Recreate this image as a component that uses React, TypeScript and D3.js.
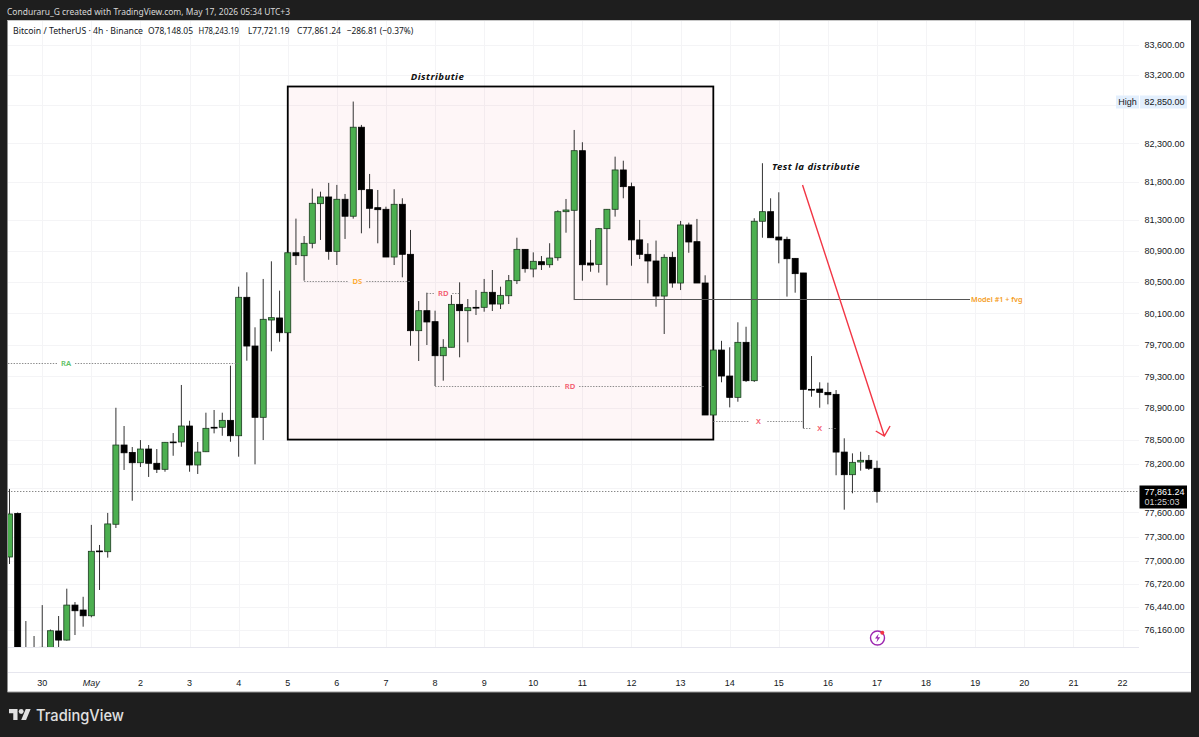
import React from "react";
import * as d3 from "d3";

const opens = [77051,77587,75797,75860,75900,75950,76148,76038,76463,76403,76333,77125,77116,77454,78438,78346,78217,78388,78210,78135,78476,78476,78676,78189,78354,78660,78660,78747,78554,80306,79685,78785,80016,80042,79854,80878,80840,81000,81513,81600,80896,81570,81350,82512,81695,81461,81440,80823,81505,80858,79880,80135,79995,79562,79669,80216,80135,80178,80178,80370,80220,80326,80519,80922,80669,80763,80724,80814,81409,81427,82204,80746,80729,81189,81440,81952,81734,81044,80858,80772,80322,80819,80489,81237,81021,80489,78814,79634,79305,79036,79732,79246,81285,81409,81081,81051,80806,80618,79137,79141,79099,79074,78350,78068,78226,78247,78148];
const highs = [77891,77600,76269,76087,76463,76166,76330,76663,76500,76564,77446,77199,77594,78905,78676,78413,78500,78438,78388,78476,78588,79192,78742,78476,78843,78877,78843,79436,80442,80627,79923,80541,80768,80391,80887,81319,81094,81709,81669,81783,81757,81639,82850,82542,81900,81691,81474,81701,81583,81172,80258,80365,80135,79772,80335,80498,80284,80399,80541,80656,80442,80592,81072,80926,80883,80836,81001,81427,81574,82476,82315,81043,81198,81444,82126,82073,81787,81302,81001,81035,80858,80891,81289,81267,81315,80588,79634,79751,79669,79987,79930,81324,82040,81583,81661,81085,80810,80618,79558,79226,79221,79128,78522,78334,78354,78313,78243];
const lows = [76965,75700,75700,75780,75800,75900,75900,76030,76099,76200,76314,76647,77043,77408,78127,77745,78164,78040,78089,78105,78304,78416,78105,78077,78350,78584,78554,78479,78292,79499,78197,78500,79618,79740,79850,80720,80519,80935,81043,80788,80720,81056,81319,81129,81194,81000,80823,80720,80562,79689,79495,79698,79179,79246,79669,79542,79732,80080,80122,80131,80156,80220,80476,80622,80562,80656,80686,80776,81137,80271,80519,80634,80622,80460,81345,81583,80711,80797,80485,80186,79838,80429,80399,80878,80489,78814,78814,79226,78910,78981,79230,79230,81072,81072,80742,80315,80365,78647,79044,78905,78948,78061,77634,77837,78118,78127,77721];
const closes = [77581,75797,75860,75900,75950,76151,76038,76463,76394,76333,77121,77121,77458,78438,78341,78217,78388,78210,78135,78472,78470,78676,78189,78350,78647,78650,78747,78554,80306,79685,78785,80025,80046,79854,80878,80840,81000,81518,81600,80896,81570,81350,82512,81695,81453,81435,80823,81505,80858,79880,80135,79991,79562,79669,80216,80135,80173,80170,80370,80220,80331,80519,80922,80673,80768,80724,80810,81409,81431,82204,80724,80720,81189,81440,81952,81734,81044,80858,80772,80322,80819,80489,81237,81017,80489,78814,79634,79305,79036,79732,79246,81285,81409,81072,81043,80801,80609,79137,79130,79099,79069,78350,78068,78222,78247,78148,77861];

const dayLabels = ["30","May","2","3","4","5","6","7","8","9","10","11","12","13","14","15","16","17","18","19","20","21","22"];
const gridPrices = [83600,83200,82800,82300,81800,81300,80900,80500,80100,79700,79300,78900,78500,78200,77900,77600,77300,77000,76720,76440,76160];
const axisPrices = [83600,83200,82300,81800,81300,80900,80500,80100,79700,79300,78900,78500,78200,77600,77300,77000,76720,76440,76160];
const highPrice = 82850;
const lastPrice = 77861.24;
const raPrice = 79470;
const xPrice = 78739;
const boxTop = 83049;
const boxBottom = 78506;
const arrowFrom = { i: 96.9, p: 81757 };
const arrowTo = { i: 106.9, p: 78551 };
const headerParts = [
  ["Bitcoin / TetherUS · 4h · Binance", 13, 130],
  ["O78,148.05", 148, 45],
  ["H78,243.19", 198.5, 40.5],
  ["L77,721.19", 248, 41.5],
  ["C77,861.24", 297, 44],
  ["−286.81 (−0.37%)", 346.7, 66.5],
] as const;

const UP = "#4caf50";
const FONT = "'Noto Sans', sans-serif";
const AXIS_FONT = "'Liberation Sans', sans-serif";
const fmt = d3.format(",.2f");

const x = d3.scaleLinear().domain([0, 106]).range([9.5, 877]);
const y = d3.scaleLog().domain([76160, 83600]).range([630, 45]);
const dayX = (k: number) => x(4 + 6 * k);

function Level({ i0, i1, p, label, color, at }: any) {
  const a = i0 === null ? 8 : x(i0);
  const b = x(i1);
  const c = at ?? (a + b) / 2;
  const yy = Math.round(y(p)) + 0.5;
  return (
    <g>
      <line x1={a} x2={c - 9} y1={yy} y2={yy} stroke="#7f7f7f" strokeWidth={0.9} strokeDasharray="1.4 1.4" />
      <line x1={c + 9} x2={b} y1={yy} y2={yy} stroke="#7f7f7f" strokeWidth={0.9} strokeDasharray="1.4 1.4" />
      <text x={c} y={yy + 2.7} fontSize={7.6} fontWeight={600} textAnchor="middle" fill={color} fontFamily={FONT}>{label}</text>
    </g>
  );
}

export default function App() {
  const candles = d3.range(opens.length).map(i => ({ i, o: opens[i], h: highs[i], l: lows[i], c: closes[i] }));
  const ax = x(arrowFrom.i), ay = y(arrowFrom.p), bx = x(arrowTo.i), by = y(arrowTo.p);
  const lastY = y(lastPrice);
  return (
    <svg width={1199} height={737} style={{ position: "absolute", left: 0, top: 0, display: "block" }}>
      <defs>
        <clipPath id="pane"><rect x={8} y={20} width={1131} height={627} /></clipPath>
      </defs>
      <rect width={1199} height={737} fill="#1e1e1e" />
      <rect x={7.5} y={20} width={1183.5} height={672} fill="#fff" />
      <line x1={7.5} x2={1191} y1={692} y2={692} stroke="#9a9a9a" />
      <line x1={7.5} x2={1191} y1={20.5} y2={20.5} stroke="#c8c8c8" />

      <text x={7} y={14.6} fontSize={9.8} fill="#d9d9d9" fontFamily={FONT} textLength={283} lengthAdjust="spacingAndGlyphs">Conduraru_G created with TradingView.com, May 17, 2026 05:34 UTC+3</text>

      {/* grid */}
      {gridPrices.map(p => (
        <line key={p} x1={8} x2={1139} y1={Math.round(y(p)) + 0.5} y2={Math.round(y(p)) + 0.5} stroke="#f4f4f6" />
      ))}
      {dayLabels.map((d, k) => (
        <line key={d} x1={Math.round(dayX(k)) + 0.5} x2={Math.round(dayX(k)) + 0.5} y1={21} y2={647} stroke="#f4f4f6" />
      ))}
      <line x1={8} x2={1139} y1={647.5} y2={647.5} stroke="#e6e6ee" />
      <line x1={8} x2={1191} y1={672.5} y2={672.5} stroke="#e6e6ee" />

      {/* distribution box */}
      <rect x={x(34)} y={y(boxTop)} width={x(86) - x(34)} height={y(boxBottom) - y(boxTop)} fill="#f23645" fillOpacity={0.045} stroke="#000" strokeWidth={1.8} />

      {/* last price line */}
      <line x1={8} x2={1139} y1={Math.round(lastY) + 0.5} y2={Math.round(lastY) + 0.5} stroke="#7a7a7a" strokeWidth={0.9} strokeDasharray="1.4 1.6" />

      {/* candles */}
      <g clipPath="url(#pane)">
        {candles.map(d => {
          const cx = x(d.i);
          const up = d.c > d.o;
          const top = y(Math.max(d.o, d.c));
          const bot = y(Math.min(d.o, d.c));
          return (
            <g key={d.i}>
              <line x1={cx} x2={cx} y1={y(d.h)} y2={y(d.l)} stroke="#333" strokeWidth={1} />
              <rect x={cx - 3} y={top} width={6} height={Math.max(bot - top, 0.8)} fill={up ? UP : "#000"} stroke={up ? "#1c3a20" : "#000"} strokeWidth={0.8} />
            </g>
          );
        })}
      </g>

      {/* levels */}
      <Level i0={null} i1={28} p={raPrice} label="RA" color="#5cc062" at={66} />
      <Level i0={36} i1={49} p={lows[36]} label="DS" color="#ffa726" />
      <Level i0={51} i1={55} p={highs[51]} label="RD" color="#f2566a" />
      <Level i0={52} i1={85} p={lows[52]} label="RD" color="#f2566a" />
      <Level i0={86} i1={97} p={xPrice} label="X" color="#f2566a" />
      <Level i0={97} i1={101} p={lows[97]} label="X" color="#f2566a" />
      <line x1={x(69)} x2={970} y1={Math.round(y(lows[69])) - 0.5} y2={Math.round(y(lows[69])) - 0.5} stroke="#555" strokeWidth={1.2} />
      <text x={971} y={y(lows[69]) + 2.3} fontSize={7.2} fontWeight={600} fill="#f59c1a" fontFamily={FONT}>Model #1 + fvg</text>

      {/* arrow */}
      <path d={`M${ax},${ay}L${bx},${by}M${bx - 8.6},${by - 5}L${bx},${by}L${bx + 5.7},${by - 10}`} fill="none" stroke="#f23645" strokeWidth={1.4} />

      <text x={437.5} y={79.5} fontSize={9.6} fontWeight={700} fontStyle="italic" textAnchor="middle" letterSpacing={0.45} fill="#111" fontFamily={FONT}>Distributie</text>
      <text x={816} y={169.5} fontSize={9.6} fontWeight={700} fontStyle="italic" textAnchor="middle" letterSpacing={0.45} fill="#111" fontFamily={FONT}>Test la distributie</text>

      {/* header */}
      {headerParts.map(([t, px, len]) => (
        <text key={t} x={px} y={34} fontSize={9.4} fill="#131722" fontFamily={FONT} textLength={len} lengthAdjust="spacingAndGlyphs">{t}</text>
      ))}

      {/* price axis */}
      {axisPrices.map(p => (
        <text key={p} x={1184.5} y={y(p) + 3.2} fontSize={9} textAnchor="end" fill="#131722" fontFamily={AXIS_FONT}>{fmt(p)}</text>
      ))}
      <rect x={1116} y={95.5} width={23} height={13} fill="#e3effd" />
      <rect x={1140} y={95.5} width={47} height={13} fill="#e3effd" />
      <text x={1127.5} y={105.2} fontSize={9} textAnchor="middle" fill="#131722" fontFamily={AXIS_FONT}>High</text>
      <text x={1184.5} y={105.2} fontSize={9} textAnchor="end" fill="#131722" fontFamily={AXIS_FONT}>{fmt(highPrice)}</text>
      <rect x={1139.5} y={485.5} width={47.5} height={23} fill="#000" />
      <text x={1184.5} y={495} fontSize={9} textAnchor="end" fill="#fff" fontFamily={AXIS_FONT}>{fmt(lastPrice)}</text>
      <text x={1179.5} y={505.3} fontSize={9} textAnchor="end" fill="#d0d0d0" fontFamily={AXIS_FONT}>01:25:03</text>

      {/* time axis */}
      {dayLabels.map((d, k) => (
        <text key={d} x={dayX(k)} y={685.5} fontSize={9} textAnchor="middle" fontStyle={d === "May" ? "italic" : "normal"} fill="#131722" fontFamily={AXIS_FONT}>{d}</text>
      ))}

      {/* bolt badge */}
      <circle cx={877.5} cy={638} r={7} fill="#fff" stroke="#9c27b0" strokeWidth={1.4} />
      <path d="M878.8,633.5L875,638.6L877.5,638.6L876.4,642.4L880.2,637.2L877.7,637.2Z" fill="#9c27b0" />
      <circle cx={882.3} cy={632.8} r={2} fill="#f23645" />

      {/* logo */}
      <g transform="translate(9,706.6) scale(0.61)" fill="#e0e0e0">
        <path d="M14 22H7V11H0V4h14v18zM28 22h-8l7.5-18h8L28 22z" />
        <circle cx={20} cy={8} r={4} />
      </g>
      <text x={36} y={720.5} fontSize={15.5} fontWeight={500} fill="#e0e0e0" fontFamily="'Inter', sans-serif" textLength={88} lengthAdjust="spacingAndGlyphs">TradingView</text>
    </svg>
  );
}
